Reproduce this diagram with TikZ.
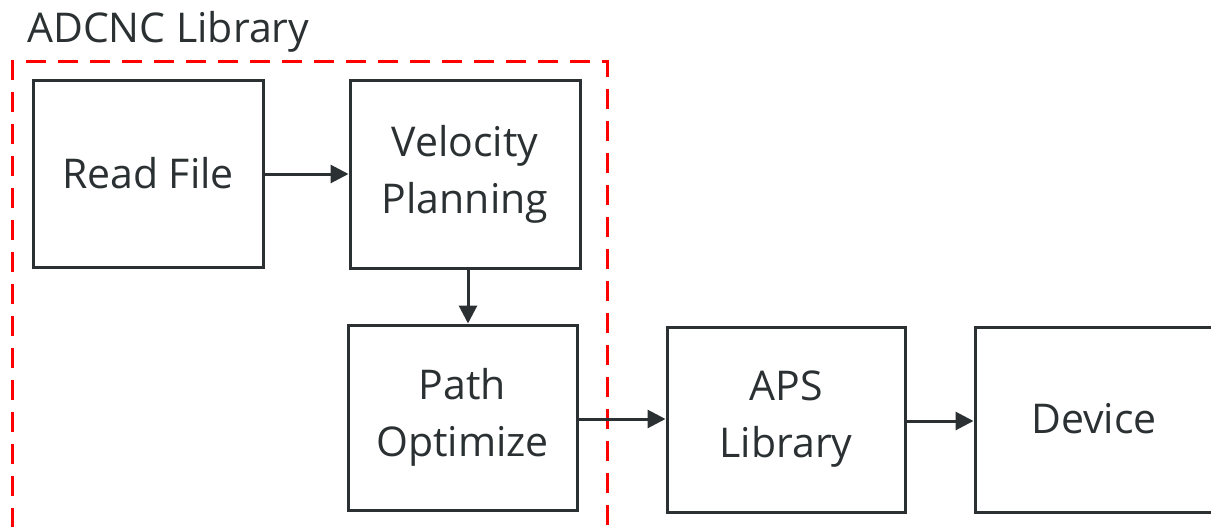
\documentclass[tikz,border=0pt]{standalone}
\usepackage{fontspec}
\setmainfont{Open Sans}
\usetikzlibrary{arrows.meta}
\definecolor{ink}{RGB}{43,49,51}
\definecolor{libred}{RGB}{255,0,0}
\tikzset{
  block/.style={draw=ink, line width=3pt, minimum width=#1, inner sep=0pt, text=ink, align=center,
    font=\fontsize{41}{57}\selectfont},
  block/.default=230pt,
  flow/.style={draw=ink, line width=3pt, -{Triangle[length=18pt,width=18pt]}},
  libframe/.style={draw=libred, line width=3pt, dash pattern=on 20pt off 12pt}
}
\begin{document}
\begin{tikzpicture}[x=1pt,y=-1pt]
  \clip (0,0) rectangle (1211,527);
  \fill[white] (0,0) rectangle (1211,527);

  % ADCNC library frame (runs past the bottom edge)
  \draw[libframe] (12,560) -- (12,62) -- (607,62) -- (607,560);
  \node[anchor=base west, inner sep=0pt, text=ink, font=\fontsize{41}{57}\selectfont] (title) at (27,43) {ADCNC Library};

  % blocks
  \node[block=230pt, minimum height=186pt] (rf)  at (148,174) {\raisebox{3pt}{Read File}};
  \node[block=230pt, minimum height=187pt] (vp)  at (465,174.5) {Velocity\\Planning};
  \node[block=229pt, minimum height=185pt] (po)  at (462.5,417.5) {Path\\Optimize};
  \node[block=238pt, minimum height=185pt] (aps) at (786,419.5) {APS\\Library};
  \node[block=238pt, minimum height=185pt] (dev) at (1094,419.5) {\raisebox{3pt}{Device}};

  % connectors
  \draw[flow] (rf.east) -- (rf.east -| vp.west);
  \draw[flow] ([xshift=3pt]vp.south) -- ([xshift=3pt]vp.south |- po.north);
  \draw[flow] ([yshift=-1.5pt]po.east) -- ([yshift=-1.5pt]po.east -| aps.west);
  \draw[flow] ([yshift=-1.5pt]aps.east) -- ([yshift=-1.5pt]aps.east -| dev.west);
\end{tikzpicture}
\end{document}
